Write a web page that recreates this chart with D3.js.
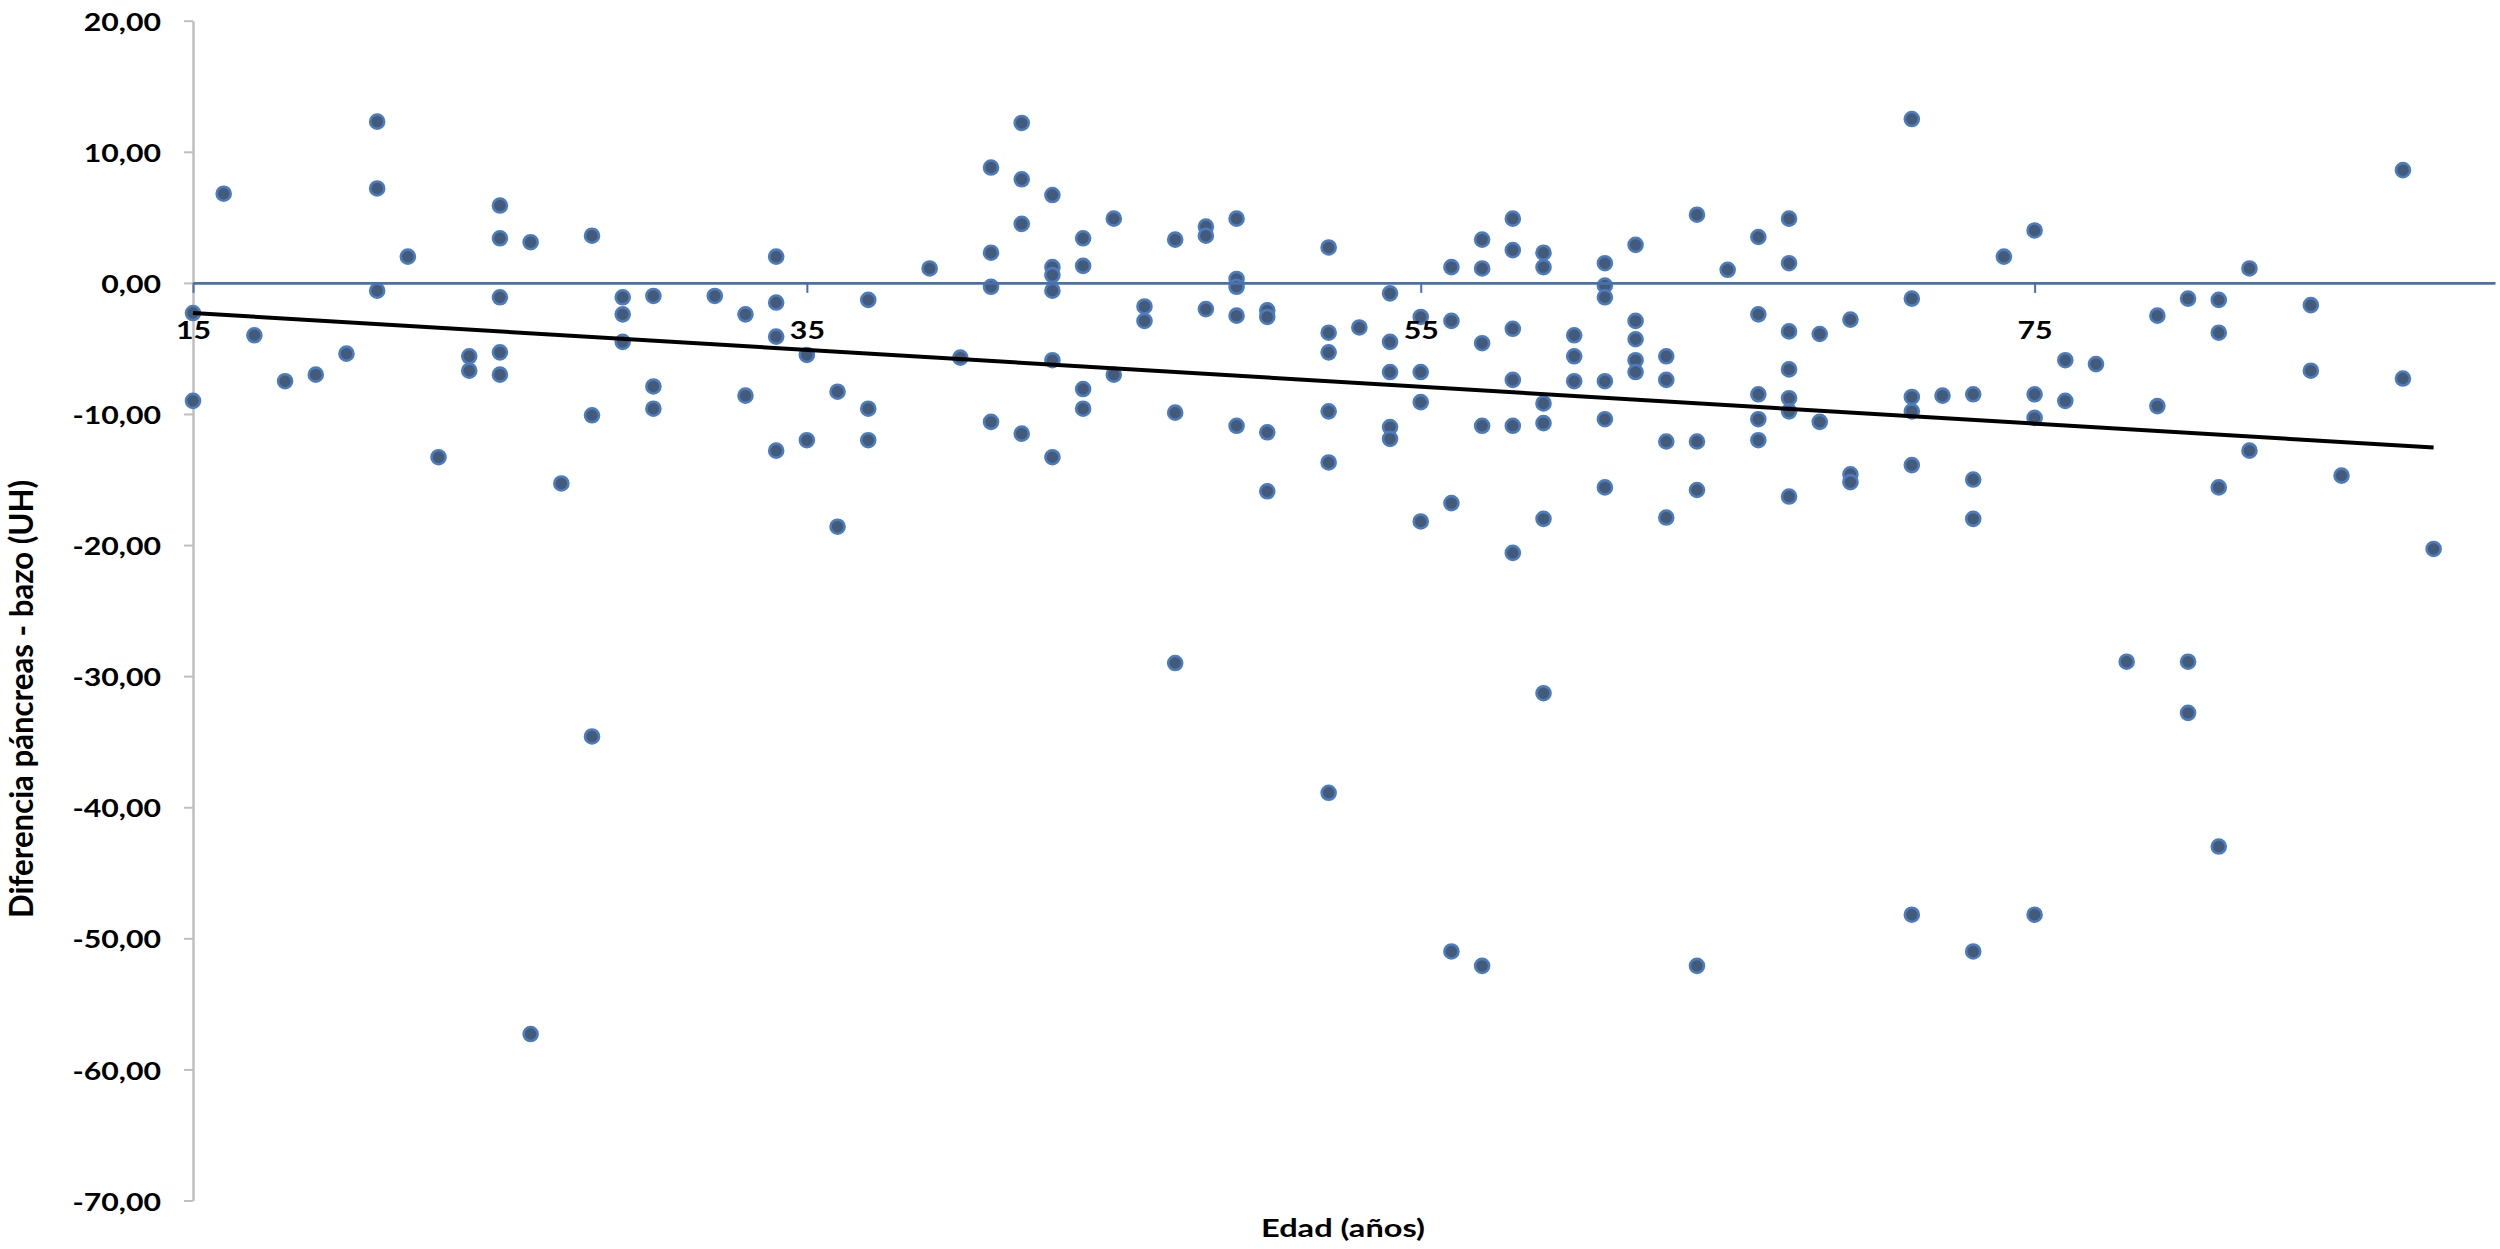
<!DOCTYPE html>
<html>
<head>
<meta charset="utf-8">
<script src="https://cdn.jsdelivr.net/npm/d3@7"></script>
<style>
  body { margin: 0; background: #fff; }
  text { font-family: Lato, "Open Sans", sans-serif; font-weight: 700; fill: #000; }
</style>
</head>
<body>
<svg id="chart"></svg>
<script>
// Values: age (years) and pancreas - spleen difference (HU)
const edad = [
  15, 15, 16, 17, 18, 19, 20, 21, 21, 21, 22, 23, 24, 24,
  25, 25, 25, 25, 25, 26, 26, 27, 28, 28, 28, 29, 29, 29,
  30, 30, 30, 32, 33, 33, 34, 34, 34, 34, 35, 35, 36, 36,
  37, 37, 37, 39, 40, 41, 41, 41, 41, 42, 42, 42, 42,
  43, 43, 43, 43, 43, 43, 44, 44, 44, 44, 45, 45, 46, 46,
  47, 47, 47, 48, 48, 48, 49, 49, 49, 49, 49, 50, 50, 50, 50,
  52, 52, 52, 52, 52, 52, 53, 54, 54, 54, 54, 54, 55, 55, 55, 55,
  56, 56, 56, 56, 57, 57, 57, 57, 57, 58, 58, 58, 58, 58, 58,
  59, 59, 59, 59, 59, 59, 60, 60, 60, 61, 61, 61, 61, 61, 61,
  62, 62, 62, 62, 62, 63, 63, 63, 63, 64, 64, 64, 64, 65,
  66, 66, 66, 66, 66, 67, 67, 67, 67, 67, 67, 67, 68, 68,
  69, 69, 69, 71, 71, 71, 71, 71, 71, 72, 73, 73, 73, 73, 74,
  75, 75, 75, 75, 76, 76, 77, 78, 79, 79, 80, 80, 80,
  81, 81, 81, 81, 82, 82, 84, 84, 85, 87, 87, 88
];
const diferencia = [
  -2.3, -9.0, 6.8, -4.0, -7.5, -7.0, -5.4, 12.3, 7.2, -0.6, 2.0, -13.3, -5.6, -6.7,
  5.9, 3.4, -1.1, -5.3, -7.0, 3.1, -57.3, -15.3, 3.6, -10.1, -34.6, -1.1, -2.4, -4.5,
  -1.0, -7.9, -9.6, -1.0, -2.4, -8.6, 2.0, -1.5, -4.1, -12.8, -5.5, -12.0, -8.3, -18.6,
  -1.3, -9.6, -12.0, 1.1, -5.7, 8.8, 2.3, -0.3, -10.6, 12.2, 7.9, 4.5, -11.5,
  6.7, 1.2, 0.6, -0.6, -5.9, -13.3, 3.4, 1.3, -8.1, -9.6, 4.9, -7.0, -1.8, -2.9,
  3.3, -9.9, -29.0, 4.3, 3.6, -2.0, 4.9, 0.3, -0.3, -2.5, -10.9, -2.1, -2.6, -11.4, -15.9,
  2.7, -3.8, -5.3, -9.8, -13.7, -38.9, -3.4, -0.8, -4.5, -6.8, -11.0, -11.9, -2.6, -6.8, -9.1, -18.2,
  1.2, -2.9, -16.8, -51.0, 3.3, 1.1, -4.6, -10.9, -52.1, 4.9, 2.5, -3.5, -7.4, -10.9, -20.6,
  2.3, 1.2, -9.2, -10.7, -18.0, -31.3, -4.0, -5.6, -7.5, 1.5, -0.2, -1.1, -7.5, -10.4, -15.6,
  2.9, -2.9, -4.3, -5.9, -6.8, -5.6, -7.4, -12.1, -17.9, 5.2, -12.1, -15.8, -52.1, 1.0,
  3.5, -2.4, -8.5, -10.4, -12.0, 4.9, 1.5, -3.7, -6.6, -8.8, -9.8, -16.3, -3.9, -10.6,
  -2.8, -14.6, -15.2, 12.5, -1.2, -8.7, -9.8, -13.9, -48.2, -8.6, -8.5, -15.0, -18.0, -51.0, 2.0,
  4.0, -8.5, -10.3, -48.2, -5.9, -9.0, -6.2, -28.9, -2.5, -9.4, -1.2, -28.9, -32.8,
  -1.3, -3.8, -15.6, -43.0, 1.1, -12.8, -1.7, -6.7, -14.7, 8.6, -7.3, -20.3
];
const xTicks = [15, 35, 55, 75];
const yTicks = [20, 10, 0, -10, -20, -30, -40, -50, -60, -70];
const xDomain = [15, 90];
const yDomain = [-70, 20];

const width = 2500,
    height = 1249;

// the original picture is stretched sideways, so text is widened to match
const stretch = 1.26;

const svg = d3.select("#chart")
    .attr("width", width)
    .attr("height", height);

const x = d3.scaleLinear()
    .domain(xDomain)
    .range([193, 2495]);

const y = d3.scaleLinear()
    .domain(yDomain)
    .range([1200.5, 20.7]);

const es = d3.formatLocale({ decimal: ",", thousands: ".", grouping: [3], currency: ["", "€"], minus: "-" });

function widen(sel) {
    sel.each(function () {
        this.setAttribute("lengthAdjust", "spacingAndGlyphs");
        this.setAttribute("textLength", this.getComputedTextLength() * stretch);
    });
}

// y axis (grey, ticks on the left)
const yAxis = svg.append("g")
    .attr("transform", `translate(${x(xDomain[0])},0)`)
    .call(d3.axisLeft(y)
        .tickValues(yTicks)
        .tickSize(9)
        .tickSizeOuter(0)
        .tickPadding(23)
        .tickFormat(es.format(".2f")));
yAxis.select(".domain").attr("stroke", "#bfbfbf").attr("stroke-width", 2.5);
yAxis.selectAll(".tick line").attr("stroke", "#bfbfbf").attr("stroke-width", 2);
yAxis.selectAll(".tick text")
    .attr("dy", "0.4em")
    .style("font-size", "24px")
    .call(widen);

// scatter points
const points = edad.map((d, i) => ({ edad: d, dif: diferencia[i] }));
svg.append("g")
    .selectAll("circle")
    .data(points)
    .enter().append("circle")
    .attr("cx", d => x(d.edad))
    .attr("cy", d => y(d.dif))
    .attr("r", 7)
    .attr("fill", "#435a78")
    .attr("stroke", "#4b7cc0")
    .attr("stroke-width", 2.6);

// linear trend line (least squares over the points)
const mx = d3.mean(points, d => d.edad),
    my = d3.mean(points, d => d.dif);
const slope = d3.sum(points, d => (d.edad - mx) * (d.dif - my)) /
    d3.sum(points, d => (d.edad - mx) ** 2);
const ext = d3.extent(points, d => d.edad);
const trend = ext.map(a => ({ edad: a, dif: my + slope * (a - mx) }));

svg.append("path")
    .datum(trend)
    .attr("fill", "none")
    .attr("stroke", "#000")
    .attr("stroke-width", 4)
    .attr("d", d3.line().x(d => x(d.edad)).y(d => y(d.dif)));

// x axis crossing at zero (blue)
const xAxis = svg.append("g")
    .attr("transform", `translate(0,${y(0)})`)
    .call(d3.axisBottom(x)
        .tickValues(xTicks)
        .tickSize(10)
        .tickSizeOuter(0)
        .tickPadding(29)
        .tickFormat(d3.format("d")));
xAxis.select(".domain").attr("stroke", "#4a70aa").attr("stroke-width", 2.6);
xAxis.selectAll(".tick line").attr("stroke", "#4a70aa").attr("stroke-width", 2);
xAxis.selectAll(".tick text")
    .style("font-size", "24px")
    .call(widen);

// axis titles
svg.append("text")
    .attr("x", 1343)
    .attr("y", 1237)
    .attr("text-anchor", "middle")
    .attr("textLength", 164)
    .attr("lengthAdjust", "spacingAndGlyphs")
    .style("font-size", "24px")
    .text("Edad (años)");

svg.append("text")
    .attr("transform", `translate(33,699) rotate(-90) scale(1,${stretch})`)
    .attr("text-anchor", "middle")
    .attr("textLength", 438)
    .attr("lengthAdjust", "spacingAndGlyphs")
    .style("font-size", "26px")
    .text("Diferencia páncreas - bazo (UH)");
</script>
</body>
</html>
